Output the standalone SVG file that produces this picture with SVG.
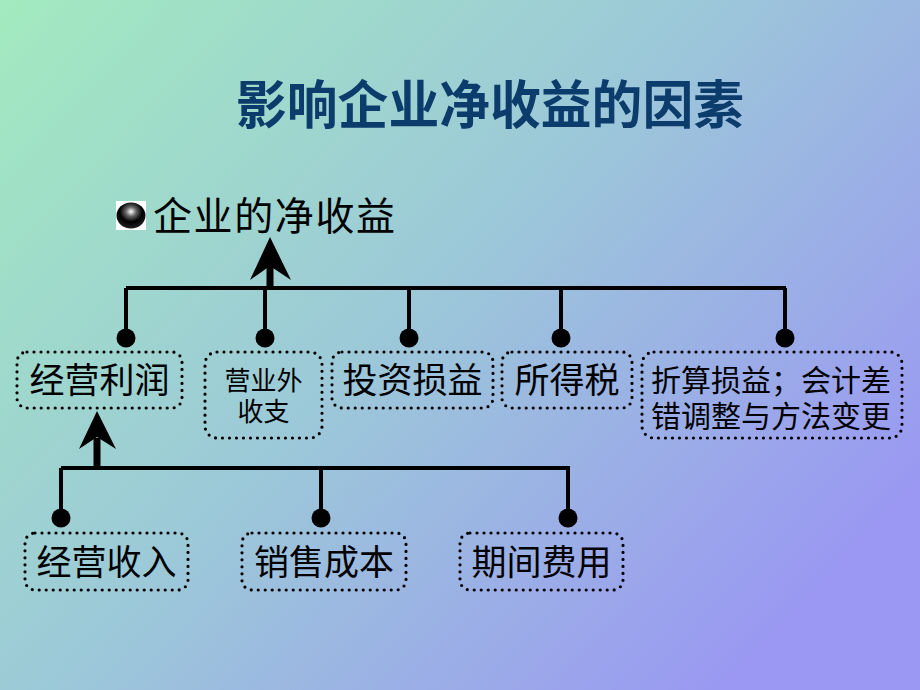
<svg xmlns="http://www.w3.org/2000/svg" width="920" height="690" viewBox="0 0 920 690">
<defs>
<linearGradient id="bg" x1="0" y1="0" x2="1" y2="0.7">
<stop offset="0" stop-color="#a2eabf"/>
<stop offset="0.5" stop-color="#9cc9d8"/>
<stop offset="1" stop-color="#9a98f2"/>
</linearGradient>
<radialGradient id="ball" cx="0.5" cy="0.35" r="0.6">
<stop offset="0" stop-color="#ffffff"/>
<stop offset="0.3" stop-color="#666666"/>
<stop offset="0.65" stop-color="#000000"/>
<stop offset="1" stop-color="#1a1a1a"/>
</radialGradient>
<style>
.box{fill:none;stroke:#000;stroke-width:3.2;stroke-linecap:round;stroke-dasharray:0 7}
.t{font-family:"Liberation Sans","Noto Sans CJK SC",sans-serif;fill:#000}
.ln{stroke:#000;stroke-width:4;fill:none}
.dot{fill:#000}
</style>
</defs>
<rect width="920" height="690" fill="url(#bg)"/>
<text x="490" y="124" text-anchor="middle" font-family="'Liberation Sans','Noto Sans CJK SC',sans-serif" font-weight="bold" font-size="52" fill="#0c3c6c" textLength="508" lengthAdjust="spacingAndGlyphs">影响企业净收益的因素</text>

<g id="root">
<rect x="116" y="201" width="30" height="29" fill="#ffffff"/>
<ellipse cx="131" cy="215.5" rx="14.5" ry="13" fill="url(#ball)"/>
<text class="t" x="153" y="230" font-size="39" textLength="242">企业的净收益</text>
</g>

<g id="connectors">
<path class="ln" d="M126,288 H786 M126,288 V338 M265,288 V338 M409,288 V338 M561,288 V338 M785,288 V338"/>
<rect x="266.5" y="265" width="7" height="23" fill="#000"/>
<polygon points="270,237 291,280 270,266 250,280" fill="#000"/>
<circle class="dot" cx="126" cy="338" r="9.5"/>
<circle class="dot" cx="265" cy="338" r="9.5"/>
<circle class="dot" cx="409" cy="338" r="9.5"/>
<circle class="dot" cx="561" cy="338" r="9.5"/>
<circle class="dot" cx="785" cy="338" r="9.5"/>

<path class="ln" d="M61,468 H570 M61,468 V518 M321,468 V518 M568,468 V518"/>
<rect x="93.5" y="438" width="7" height="30" fill="#000"/>
<polygon points="97,411 116,449 97,437 79,449" fill="#000"/>
<circle class="dot" cx="61" cy="518" r="9.5"/>
<circle class="dot" cx="321" cy="518" r="9.5"/>
<circle class="dot" cx="568" cy="518" r="9.5"/>
</g>

<g id="n1">
<rect class="box" x="17" y="352" width="165" height="56" rx="10"/>
<text class="t" x="99.5" y="393" font-size="35" text-anchor="middle">经营利润</text>
</g>
<g id="n2">
<rect class="box" x="205" y="352" width="117" height="86" rx="12"/>
<text class="t" font-size="26" text-anchor="middle"><tspan x="263.5" y="390">营业外</tspan><tspan x="263.5" y="421">收支</tspan></text>
</g>
<g id="n3">
<rect class="box" x="332" y="352" width="161" height="56" rx="10"/>
<text class="t" x="412.5" y="393" font-size="35" text-anchor="middle">投资损益</text>
</g>
<g id="n4">
<rect class="box" x="502" y="352" width="130" height="56" rx="10"/>
<text class="t" x="567" y="393" font-size="35" text-anchor="middle">所得税</text>
</g>
<g id="n5">
<rect class="box" x="642" y="352" width="260" height="86" rx="12"/>
<text class="t" font-size="30" text-anchor="middle"><tspan x="771" y="391">折算损益；会计差</tspan><tspan x="771" y="427">错调整与方法变更</tspan></text>
</g>
<g id="n6">
<rect class="box" x="25" y="533" width="163" height="57" rx="10"/>
<text class="t" x="106.5" y="575" font-size="35" text-anchor="middle">经营收入</text>
</g>
<g id="n7">
<rect class="box" x="242" y="533" width="164" height="57" rx="10"/>
<text class="t" x="324" y="575" font-size="35" text-anchor="middle">销售成本</text>
</g>
<g id="n8">
<rect class="box" x="460" y="533" width="163" height="57" rx="10"/>
<text class="t" x="541.5" y="575" font-size="35" text-anchor="middle">期间费用</text>
</g>
</svg>
